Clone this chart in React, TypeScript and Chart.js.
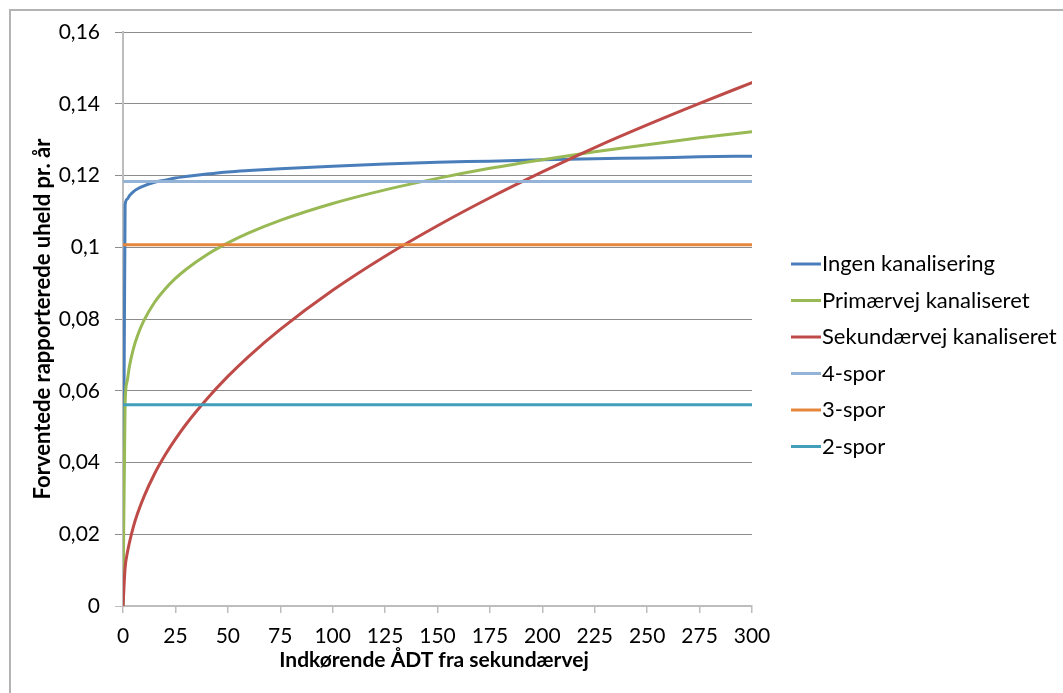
import React, { useEffect, useRef } from 'react';
import { Chart, registerables } from 'chart.js';

Chart.register(...registerables);

// Incoming daily traffic from the secondary road (x values of the curves)
const adtValues = [0, 1, 2, 3, 5, 7, 10, 15, 20, 25, 30, 40, 50, 60, 75, 100, 125, 150, 175, 200, 225, 250, 275, 300];

// Expected reported accidents per year for each intersection layout
const ingenKanalisering = [0, 0.1118, 0.1134, 0.1143, 0.1155, 0.1163, 0.1171, 0.1181, 0.1187, 0.1193, 0.1197, 0.1204, 0.121, 0.1214, 0.1219, 0.1226, 0.1232, 0.1237, 0.124, 0.1244, 0.1247, 0.1249, 0.1252, 0.1254];
const primaervejKanaliseret = [0, 0.0565, 0.0627, 0.0666, 0.0718, 0.0755, 0.0796, 0.0846, 0.0883, 0.0913, 0.0938, 0.0979, 0.1012, 0.104, 0.1075, 0.1122, 0.116, 0.1192, 0.122, 0.1244, 0.1266, 0.1286, 0.1305, 0.1322];
const sekundaervejKanaliseret = [0, 0.0106, 0.0146, 0.0175, 0.0222, 0.0259, 0.0305, 0.0368, 0.042, 0.0465, 0.0506, 0.0577, 0.064, 0.0696, 0.0771, 0.088, 0.0975, 0.106, 0.1138, 0.121, 0.1278, 0.1341, 0.1401, 0.1459];

// Constant levels for the lane variants
const levelRange = [0, 300];
const fireSpor = [0.1183, 0.1183];
const treSpor = [0.1007, 0.1007];
const toSpor = [0.0561, 0.0561];

const seriesLabels = ['Ingen kanalisering', 'Primærvej kanaliseret', 'Sekundærvej kanaliseret', '4-spor', '3-spor', '2-spor'];
const seriesColors = ['#4a7ebb', '#98b954', '#be4b48', '#95b3d7', '#e4873c', '#429fba'];

const xTicks = [0, 25, 50, 75, 100, 125, 150, 175, 200, 225, 250, 275, 300];
const xTickLabels = ['0', '25', '50', '75', '100', '125', '150', '175', '200', '225', '250', '275', '300'];
const yTicks = [0, 0.02, 0.04, 0.06, 0.08, 0.1, 0.12, 0.14, 0.16];
const yTickLabels = ['0', '0,02', '0,04', '0,06', '0,08', '0,1', '0,12', '0,14', '0,16'];

const xTitle = 'Indkørende ÅDT fra sekundærvej';
const yTitle = 'Forventede rapporterede uheld pr. år';

const FONT = 'Lato, "Noto Sans", sans-serif';
const WIDTH = 1063;
const HEIGHT = 693;

const pairUp = (xs: number[], ys: number[]) => xs.map((x, i) => ({ x, y: ys[i] }));

// Frame, axis titles and legend drawn around the plot
const decorations = {
  id: 'decorations',
  beforeDraw(chart: Chart) {
    const { ctx } = chart;
    ctx.save();
    ctx.fillStyle = '#ffffff';
    ctx.fillRect(0, 0, WIDTH, HEIGHT);
    ctx.strokeStyle = '#b3b3b3';
    ctx.lineWidth = 2;
    ctx.beginPath();
    ctx.moveTo(WIDTH, 10);
    ctx.lineTo(10, 10);
    ctx.lineTo(10, HEIGHT);
    ctx.stroke();
    ctx.restore();
  },
  afterDraw(chart: Chart) {
    const { ctx, chartArea } = chart;
    ctx.save();
    ctx.fillStyle = '#000000';
    ctx.font = `bold 21px ${FONT}`;
    ctx.textAlign = 'center';
    ctx.textBaseline = 'alphabetic';
    ctx.fillText(xTitle, 434, 667);

    ctx.save();
    ctx.font = `bold 22px ${FONT}`;
    ctx.translate(50, (chartArea.top + chartArea.bottom) / 2);
    ctx.rotate(-Math.PI / 2);
    ctx.fillText(yTitle, 0, 0);
    ctx.restore();

    // legend
    ctx.font = `22px ${FONT}`;
    ctx.textAlign = 'left';
    ctx.textBaseline = 'middle';
    chart.data.datasets.forEach((ds: any, i: number) => {
      const y = 264 + i * 36.5;
      ctx.strokeStyle = ds.borderColor;
      ctx.lineWidth = 3;
      ctx.beginPath();
      ctx.moveTo(791, y);
      ctx.lineTo(821, y);
      ctx.stroke();
      ctx.fillStyle = '#000000';
      ctx.fillText(ds.label, 822, y);
    });
    ctx.restore();
  },
};

export default function App() {
  const canvasRef = useRef<HTMLCanvasElement | null>(null);

  useEffect(() => {
    const canvas = canvasRef.current;
    if (!canvas) return;
    const seriesData = [
      pairUp(adtValues, ingenKanalisering),
      pairUp(adtValues, primaervejKanaliseret),
      pairUp(adtValues, sekundaervejKanaliseret),
      pairUp(levelRange, fireSpor),
      pairUp(levelRange, treSpor),
      pairUp(levelRange, toSpor),
    ];
    const chart = new Chart(canvas, {
      type: 'line',
      data: {
        datasets: seriesData.map((data, i) => ({
          label: seriesLabels[i],
          data,
          borderColor: seriesColors[i],
          backgroundColor: seriesColors[i],
          borderWidth: 3,
          pointRadius: 0,
          fill: false,
          cubicInterpolationMode: 'monotone' as const,
          borderCapStyle: 'round' as const,
          borderJoinStyle: 'round' as const,
          order: seriesData.length - i,
        })),
      },
      options: {
        responsive: false,
        animation: false,
        devicePixelRatio: 1,
        layout: { padding: { top: 32, right: 311, left: 0, bottom: 0 } },
        plugins: {
          legend: { display: false },
          tooltip: { enabled: false },
          title: { display: false },
        },
        scales: {
          x: {
            type: 'linear',
            min: 0,
            max: 300,
            afterBuildTicks: (scale: any) => {
              scale.ticks = xTicks.map((value) => ({ value }));
            },
            afterFit: (scale: any) => {
              scale.height = 87;
            },
            ticks: {
              autoSkip: false,
              maxRotation: 0,
              padding: 11,
              color: '#000000',
              font: { family: FONT, size: 21 },
              callback: (_v: any, i: number) => xTickLabels[i],
            },
            grid: { drawOnChartArea: false, drawTicks: true, tickLength: 7, color: '#bdbdbd', lineWidth: 1.5 },
            border: { display: true, color: '#bdbdbd', width: 2 },
          },
          y: {
            type: 'linear',
            min: 0,
            max: 0.16,
            afterBuildTicks: (scale: any) => {
              scale.ticks = yTicks.map((value) => ({ value }));
            },
            afterFit: (scale: any) => {
              scale.width = 123;
            },
            ticks: {
              padding: 15,
              color: '#000000',
              font: { family: FONT, size: 21 },
              callback: (_v: any, i: number) => yTickLabels[i],
            },
            grid: {
              color: (ctx: any) => (ctx.tick && ctx.tick.value === 0 ? '#bdbdbd' : '#8c8c8c'),
              lineWidth: 1,
              tickLength: 8,
              drawTicks: true,
            },
            border: { display: true, color: '#bdbdbd', width: 2 },
          },
        },
      },
      plugins: [decorations],
    });
    return () => chart.destroy();
  }, []);

  return (
    <div style={{ position: 'absolute', left: 0, top: 0, width: WIDTH, height: HEIGHT, background: '#ffffff' }}>
      <canvas ref={canvasRef} width={WIDTH} height={HEIGHT} style={{ display: 'block' }} />
    </div>
  );
}
